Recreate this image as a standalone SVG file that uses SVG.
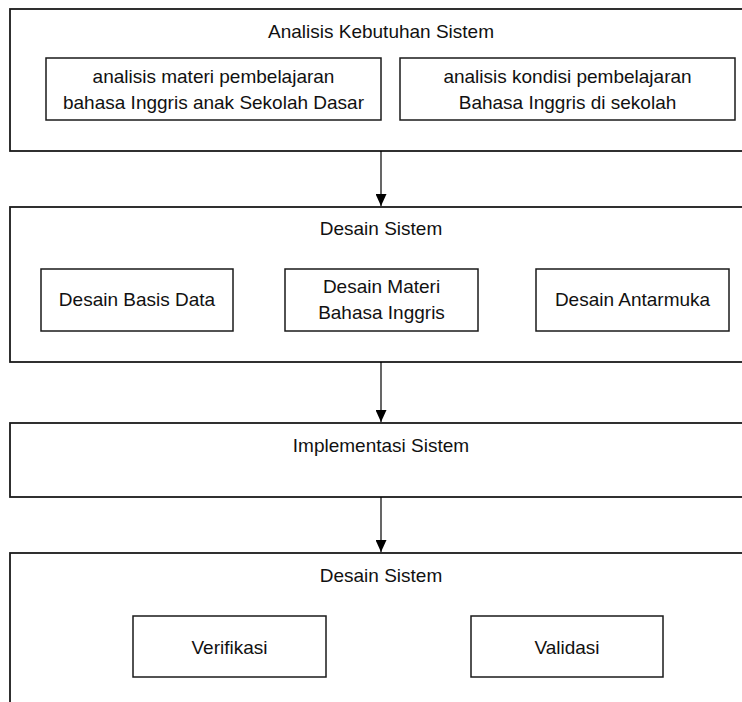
<svg xmlns="http://www.w3.org/2000/svg" width="742" height="702" viewBox="0 0 742 702">
  <defs>
    <marker id="arrow" markerWidth="12" markerHeight="11" refX="12" refY="5.5" orient="auto" markerUnits="userSpaceOnUse" viewBox="0 0 12 11">
      <path d="M0,0 L12,5.5 L0,11 Z" fill="#000"/>
    </marker>
    <style>
      .outer { fill: #fff; stroke: #1a1a1a; stroke-width: 1.8; }
      .inner { fill: #fff; stroke: #1a1a1a; stroke-width: 1.5; }
      .conn { stroke: #000; stroke-width: 1.2; fill: none; }
      text { font-family: "Liberation Sans", Arial, sans-serif; font-size: 19px; fill: #111; text-anchor: middle; }
    </style>
  </defs>
  <rect width="742" height="702" fill="#fff"/>

  <g id="analisis-kebutuhan">
    <rect class="outer" x="10" y="9" width="745" height="142"/>
    <text x="381" y="38">Analisis Kebutuhan Sistem</text>
    <g id="analisis-materi">
      <rect class="inner" x="46" y="58" width="335" height="62"/>
      <text x="213.5" y="83">analisis materi pembelajaran</text>
      <text x="213.5" y="109">bahasa Inggris anak Sekolah Dasar</text>
    </g>
    <g id="analisis-kondisi">
      <rect class="inner" x="400" y="58" width="335" height="62"/>
      <text x="567.5" y="83">analisis kondisi pembelajaran</text>
      <text x="567.5" y="109">Bahasa Inggris di sekolah</text>
    </g>
  </g>

  <g id="desain-sistem">
    <rect class="outer" x="10" y="207" width="745" height="155"/>
    <text x="381" y="235">Desain Sistem</text>
    <g id="desain-basis-data">
      <rect class="inner" x="41" y="269" width="192" height="62"/>
      <text x="137" y="306">Desain Basis Data</text>
    </g>
    <g id="desain-materi">
      <rect class="inner" x="285" y="269" width="193" height="62"/>
      <text x="381.5" y="293">Desain Materi</text>
      <text x="381.5" y="319">Bahasa Inggris</text>
    </g>
    <g id="desain-antarmuka">
      <rect class="inner" x="536" y="269" width="193" height="62"/>
      <text x="632.5" y="306">Desain Antarmuka</text>
    </g>
  </g>

  <g id="implementasi-sistem">
    <rect class="outer" x="10" y="423" width="745" height="74"/>
    <text x="381" y="452">Implementasi Sistem</text>
  </g>

  <g id="pengujian">
    <rect class="outer" x="10" y="553" width="745" height="160"/>
    <text x="381" y="582">Desain Sistem</text>
    <g id="verifikasi">
      <rect class="inner" x="133" y="616" width="193" height="61"/>
      <text x="229.5" y="654">Verifikasi</text>
    </g>
    <g id="validasi">
      <rect class="inner" x="471" y="616" width="192" height="61"/>
      <text x="567" y="654">Validasi</text>
    </g>
  </g>

  <g id="connectors">
    <line class="conn" x1="381" y1="151" x2="381" y2="206" marker-end="url(#arrow)"/>
    <line class="conn" x1="381" y1="362" x2="381" y2="422" marker-end="url(#arrow)"/>
    <line class="conn" x1="381" y1="497" x2="381" y2="552" marker-end="url(#arrow)"/>
  </g>
</svg>
